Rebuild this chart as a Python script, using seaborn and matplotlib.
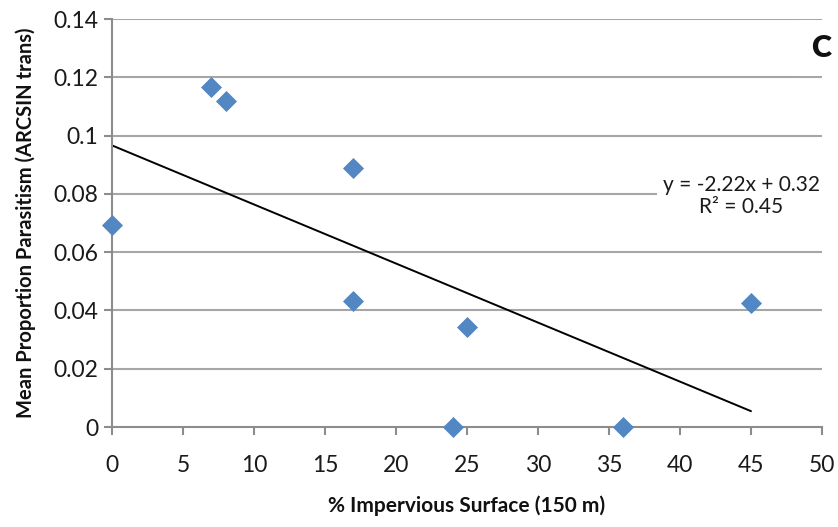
import matplotlib
matplotlib.use("Agg")
import matplotlib.pyplot as plt
import seaborn as sns
import numpy as np
import pandas as pd

impervious = [0, 7, 8, 17, 17, 24, 25, 36, 45]
parasitism = [0.0693, 0.1167, 0.1119, 0.0889, 0.0432, 0.0, 0.0343, 0.0, 0.0426]
x_ticks = [0, 5, 10, 15, 20, 25, 30, 35, 40, 45, 50]
y_ticks = [0, 0.02, 0.04, 0.06, 0.08, 0.1, 0.12, 0.14]
y_tick_labels = ["0", "0.02", "0.04", "0.06", "0.08", "0.1", "0.12", "0.14"]
equation_text = "y = -2.22x + 0.32\nR² = 0.45"
panel_label = "C"

df = pd.DataFrame({"x": impervious, "y": parasitism})

sns.set_style("white")
plt.rcParams["font.family"] = ["Lato", "DejaVu Sans"]

fig = plt.figure(figsize=(8.38, 5.27), dpi=100)
ax = fig.add_axes([112/838, 1-427/527, (822-112)/838, (427-19)/527])

grid_c = "#A6A6A6"
for yt in y_ticks[1:]:
    ax.axhline(yt, color=grid_c, lw=1.5, zorder=0)

sns.regplot(data=df, x="x", y="y", scatter=False, ci=None, truncate=True,
            line_kws=dict(color="black", lw=1.4, zorder=2), ax=ax)
sns.scatterplot(data=df, x="x", y="y", marker="D", s=115, color="#5287C4",
                edgecolor="#5287C4", linewidth=0, zorder=5, ax=ax, clip_on=False)

ax.set_xlim(0, 50)
ax.set_ylim(0, 0.14)
ax.set_xticks(x_ticks)
ax.set_yticks(y_ticks)
ax.set_yticklabels(y_tick_labels)

for s in ["top", "right"]:
    ax.spines[s].set_visible(False)
for s in ["left", "bottom"]:
    ax.spines[s].set_color("#8C8C8C")
    ax.spines[s].set_linewidth(1.5)
ax.tick_params(axis="both", direction="out", length=6, width=1.5, color="#8C8C8C",
               labelsize=16.5, labelcolor="#1a1a1a")
ax.tick_params(axis="x", pad=14, bottom=True)
ax.tick_params(axis="y", pad=4, left=True)

ax.set_xlabel("% Impervious Surface (150 m)", fontsize=15, fontweight="bold",
              labelpad=14, color="#111111")
ax.set_ylabel("Mean Proportion Parasitism (ARCSIN trans)", fontsize=14.5,
              fontweight="bold", labelpad=12, color="#111111")

ax.text(741/838, 1-196/527, equation_text, transform=fig.transFigure,
        ha="center", va="center", fontsize=15, color="#1a1a1a", linespacing=1.1,
        bbox=dict(facecolor="white", edgecolor="none", pad=4), zorder=4)
ax.text(821/838, 1-48/527, panel_label, transform=fig.transFigure,
        ha="center", va="center", fontsize=22, fontweight="heavy", color="#111111",
        bbox=dict(facecolor="white", edgecolor="none", boxstyle="square,pad=0.45"),
        zorder=4, clip_on=False)

fig.savefig("out.png", dpi=100)
